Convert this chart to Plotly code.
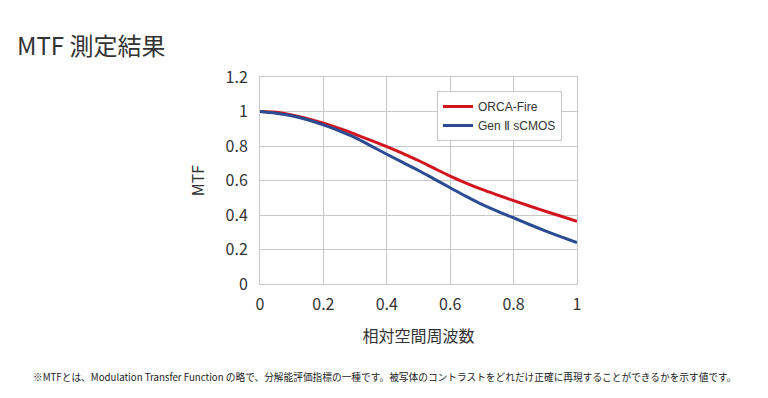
import plotly.graph_objects as go

freq = [0, 0.05, 0.1, 0.15, 0.2, 0.25, 0.3, 0.35, 0.4, 0.45, 0.5,
        0.55, 0.6, 0.65, 0.7, 0.75, 0.8, 0.85, 0.9, 0.95, 1.0]
orca_fire = [1.0, 0.995, 0.98, 0.958, 0.932, 0.902, 0.868, 0.833, 0.796, 0.757, 0.716,
             0.670, 0.625, 0.585, 0.548, 0.515, 0.483, 0.452, 0.422, 0.393, 0.364]
gen2_scmos = [1.0, 0.99, 0.975, 0.952, 0.922, 0.888, 0.849, 0.801, 0.752, 0.705, 0.658,
              0.608, 0.558, 0.508, 0.461, 0.421, 0.384, 0.345, 0.308, 0.273, 0.24]
x_ticks = [0, 0.2, 0.4, 0.6, 0.8, 1.0]
x_tick_labels = ["0", "0.2", "0.4", "0.6", "0.8", "1"]
y_ticks = [0, 0.2, 0.4, 0.6, 0.8, 1.0, 1.2]
y_tick_labels = ["0", "0.2", "0.4", "0.6", "0.8", "1", "1.2"]

FONT = "Noto Sans CJK JP"
TXT = "#333333"

# page body has an 8px default margin; plot area target: x 260..577, y 77..284
L, T, PW, PH = 252, 69, 317, 207

fig = go.Figure()
fig.add_trace(go.Scatter(x=freq, y=orca_fire, mode="lines", name="ORCA-Fire",
                         line=dict(color="#d2141e", width=3, shape="spline")))
fig.add_trace(go.Scatter(x=freq, y=gen2_scmos, mode="lines", name="Gen Ⅱ sCMOS",
                         line=dict(color="#2b4c92", width=3, shape="spline")))

fig.update_layout(
    width=768, height=398,
    margin=dict(l=L, r=768 - L - PW, t=T, b=398 - T - PH),
    paper_bgcolor="white", plot_bgcolor="white",
    font=dict(family=FONT, color=TXT, size=15),
    showlegend=True,
    legend=dict(x=(437 - 260) / PW, y=1 - (91 - 77) / PH, xanchor="left", yanchor="top",
                bgcolor="white", bordercolor="#c8c8c8", borderwidth=1,
                font=dict(family="Liberation Sans, Arial", size=12, color=TXT),
                tracegroupgap=0, itemwidth=30),
    xaxis=dict(range=[0, 1], tickvals=x_ticks, ticktext=x_tick_labels,
               showgrid=True, gridcolor="#c8c8c8", gridwidth=1,
               showline=True, linecolor="#c8c8c8", linewidth=1, mirror=True,
               zeroline=False, ticks="", ticklabelstandoff=6,
               tickfont=dict(size=16, color=TXT),
               title=dict(text="相対空間周波数", font=dict(size=16, color=TXT), standoff=16)),
    yaxis=dict(range=[0, 1.2], tickvals=y_ticks, ticktext=y_tick_labels,
               showgrid=True, gridcolor="#c8c8c8", gridwidth=1,
               showline=True, linecolor="#c8c8c8", linewidth=1, mirror=True,
               zeroline=False, ticks="", ticklabelstandoff=8,
               tickfont=dict(size=16, color=TXT),
               title=dict(text="MTF", font=dict(size=16, color=TXT), standoff=16)),
)

fig.add_annotation(text="MTF 測定結果", xref="paper", yref="paper",
                   x=(15 - 260) / PW, y=1 + (77 - 45) / PH, xanchor="left", yanchor="middle",
                   showarrow=False, font=dict(family=FONT, size=24, color=TXT))
fig.add_annotation(text="※MTFとは、Modulation Transfer Function の略で、分解能評価指標の一種です。被写体のコントラストをどれだけ正確に再現することができるかを示す値です。",
                   xref="paper", yref="paper",
                   x=(384.5 - 260) / PW, y=-(377 - 284) / PH, xanchor="center", yanchor="middle",
                   showarrow=False, font=dict(family=FONT, size=9.7, color="#222222"))

fig.write_html("out.html")
